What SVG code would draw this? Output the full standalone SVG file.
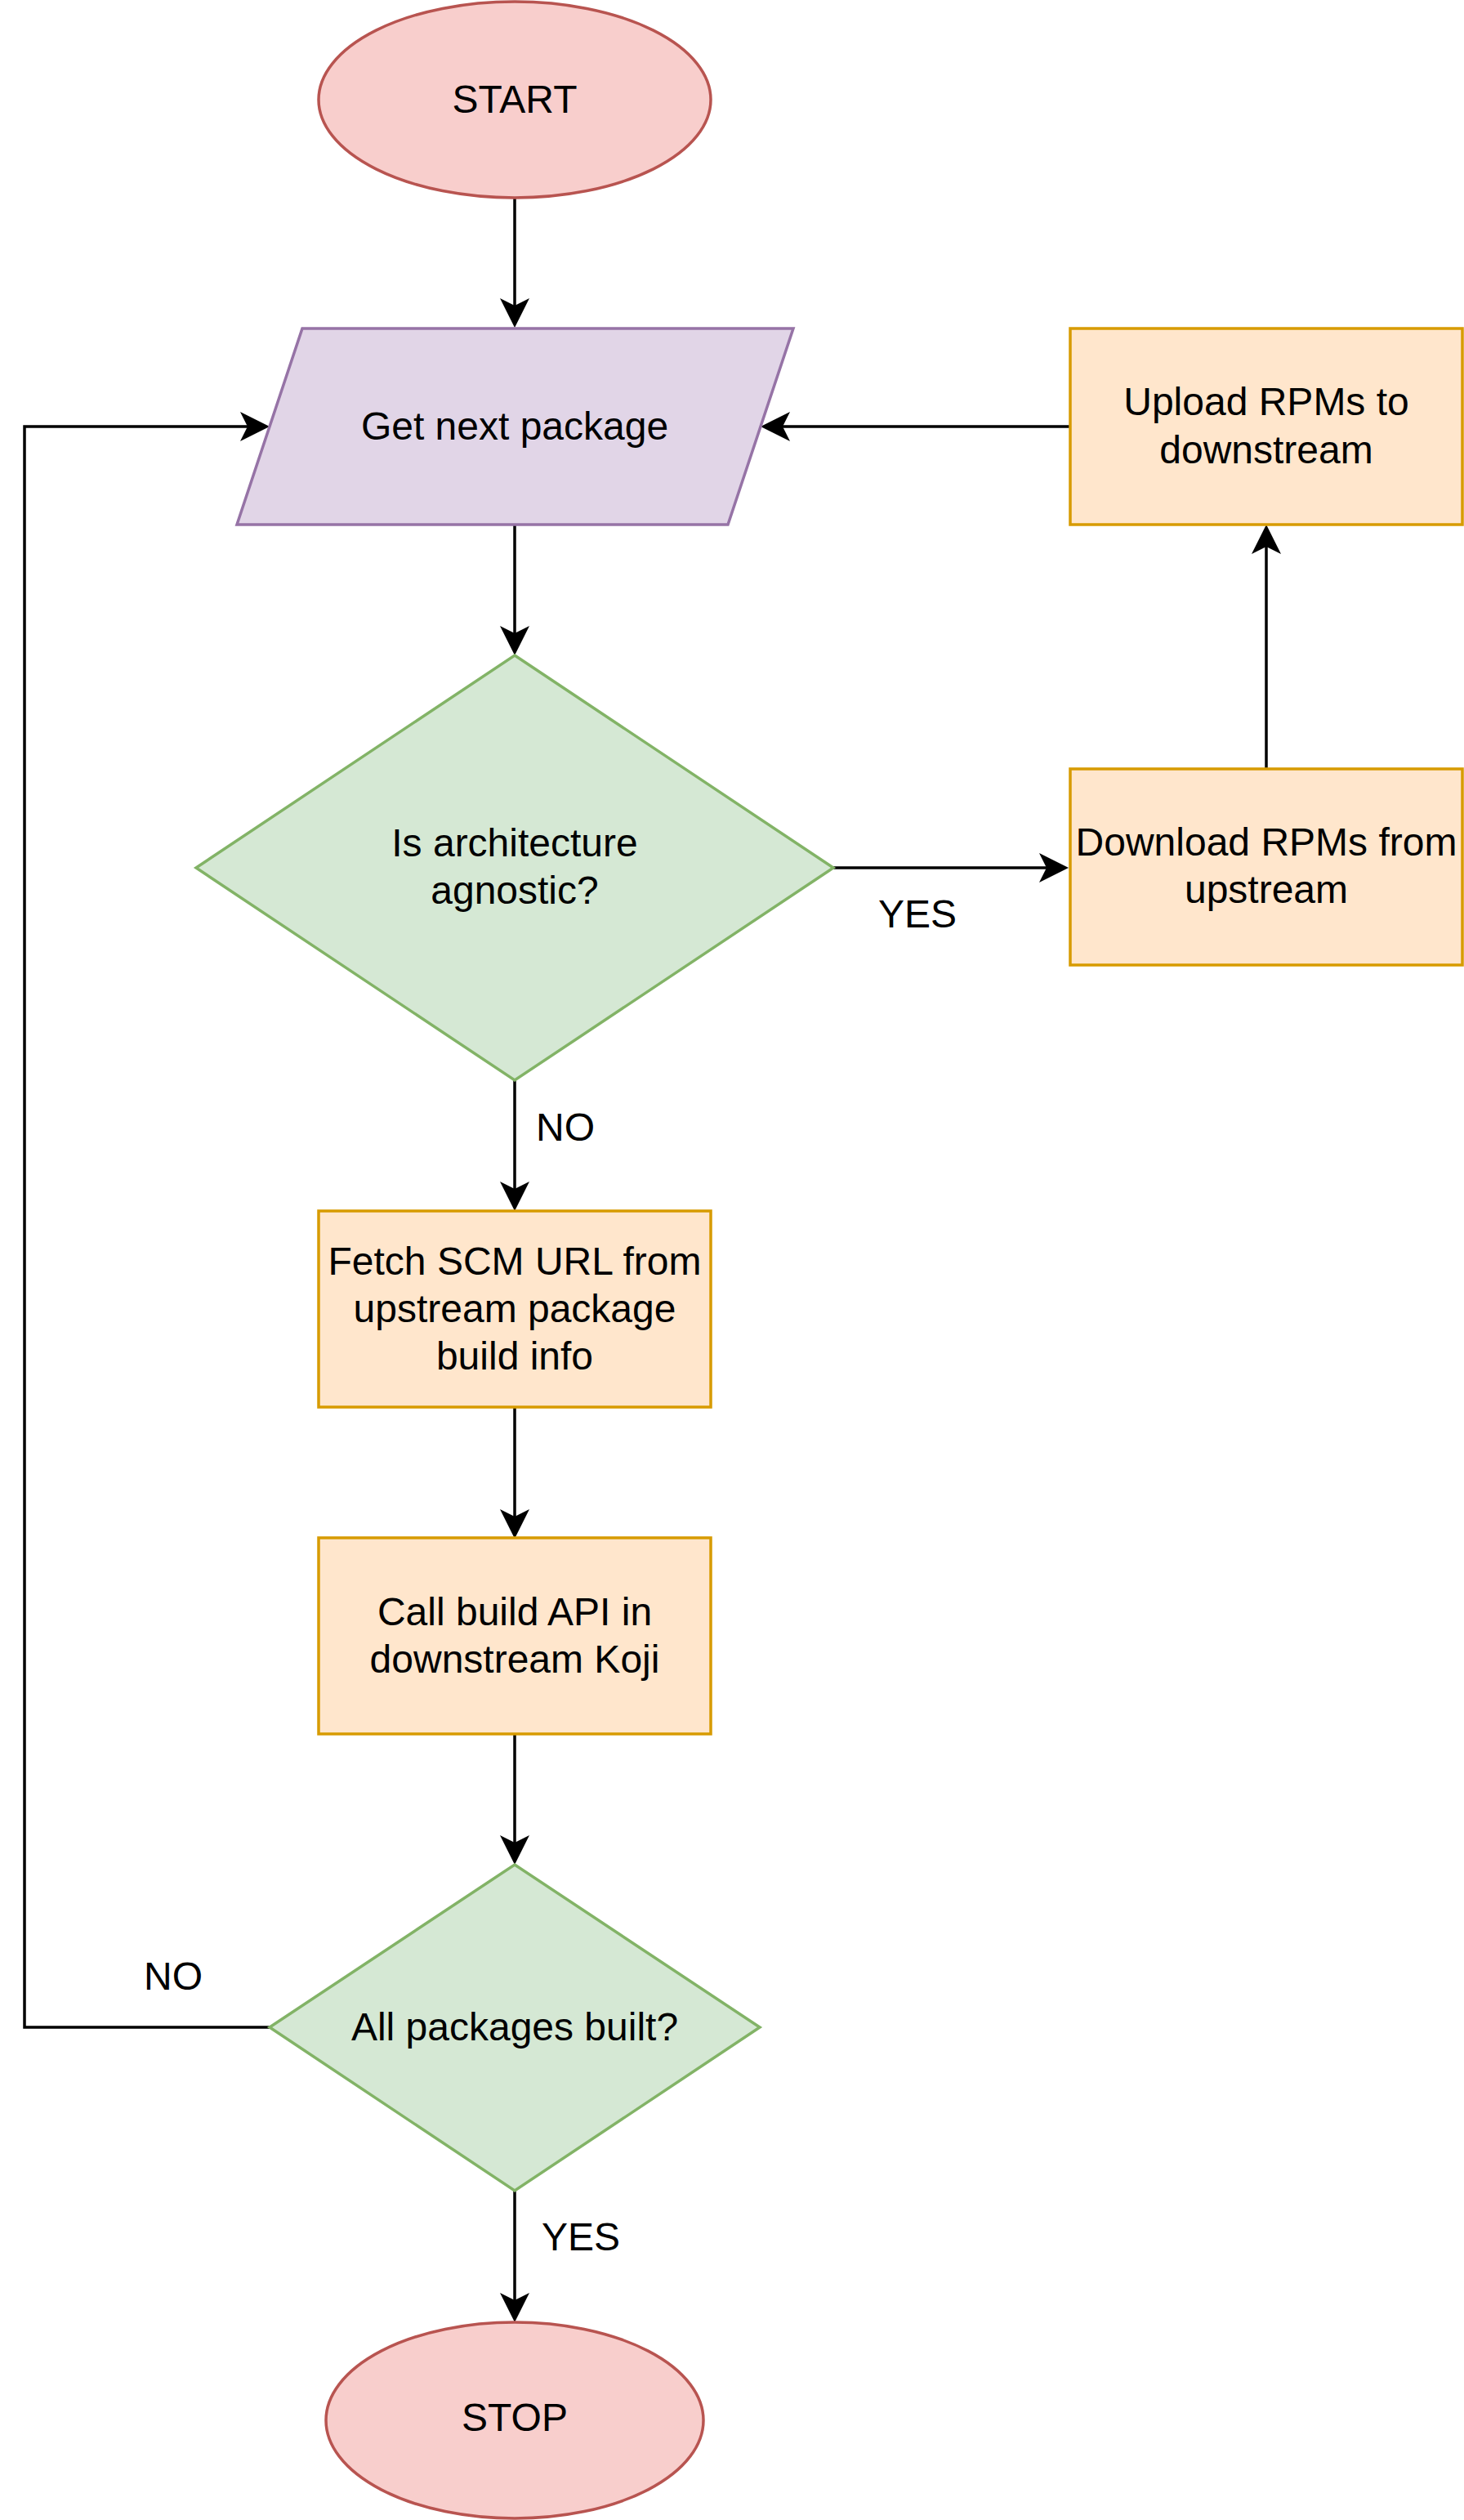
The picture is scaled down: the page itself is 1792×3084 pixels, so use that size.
<svg xmlns="http://www.w3.org/2000/svg" width="1792" height="3084" viewBox="0 0 1792 3084">
<style>
.t{font-family:"Liberation Sans",Arial,Helvetica,sans-serif;font-size:48px;fill:#000;text-anchor:middle}
.l{font-family:"Liberation Sans",Arial,Helvetica,sans-serif;font-size:48px;fill:#000;text-anchor:start}
.term{fill:#f8cecc;stroke:#b85450;stroke-width:3.5}
.io{fill:#e1d5e7;stroke:#9673a6;stroke-width:3.5}
.proc{fill:#ffe6cc;stroke:#d79b00;stroke-width:3.5}
.dec{fill:#d5e8d4;stroke:#82b366;stroke-width:3.5}
.edge{fill:none;stroke:#000;stroke-width:3.5;marker-end:url(#arr)}
</style>
<defs>
<marker id="arr" markerUnits="userSpaceOnUse" markerWidth="36" markerHeight="36" viewBox="0 0 36 36" refX="26" refY="18" orient="auto">
<path d="M36,18 L0,0 L9,18 L0,36 Z" fill="#000"/>
</marker>
</defs>
<rect width="1792" height="3084" fill="#fff"/>
<g id="connectors">
<path class="edge" d="M630,242 L630,391"/>
<path class="edge" d="M630,642 L630,792"/>
<path class="edge" d="M1020,1062 L1298,1062"/>
<path class="edge" d="M1550,941 L1550,652"/>
<path class="edge" d="M1310,522 L941,522"/>
<path class="edge" d="M630,1322 L630,1472"/>
<path class="edge" d="M630,1722 L630,1873"/>
<path class="edge" d="M630,2122 L630,2272"/>
<path class="edge" d="M330,2481 L30,2481 L30,522 L320,522"/>
<path class="edge" d="M630,2681 L630,2832"/>
<text class="l" x="1075" y="1135">YES</text>
<text class="l" x="656" y="1396">NO</text>
<text class="l" x="176" y="2435">NO</text>
<text class="l" x="663" y="2754">YES</text>
</g>
<g id="start">
<ellipse class="term" cx="630" cy="122" rx="240" ry="120"/>
<text class="t" x="630" y="138">START</text>
</g>
<g id="get-next">
<polygon class="io" points="370,402 971,402 891,642 290,642"/>
<text class="t" x="630" y="538">Get next package</text>
</g>
<g id="arch-agnostic">
<polygon class="dec" points="630,802 1020,1062 630,1322 240,1062"/>
<text class="t" x="630" y="1048">Is architecture</text>
<text class="t" x="630" y="1106">agnostic?</text>
</g>
<g id="download">
<rect class="proc" x="1310" y="941" width="480" height="240"/>
<text class="t" x="1550" y="1047">Download RPMs from</text>
<text class="t" x="1550" y="1105">upstream</text>
</g>
<g id="upload">
<rect class="proc" x="1310" y="402" width="480" height="240"/>
<text class="t" x="1550" y="508">Upload RPMs to</text>
<text class="t" x="1550" y="567">downstream</text>
</g>
<g id="fetch">
<rect class="proc" x="390" y="1482" width="480" height="240"/>
<text class="t" x="630" y="1560">Fetch SCM URL from</text>
<text class="t" x="630" y="1618">upstream package</text>
<text class="t" x="630" y="1676">build info</text>
</g>
<g id="call-build">
<rect class="proc" x="390" y="1882" width="480" height="240"/>
<text class="t" x="630" y="1989">Call build API in</text>
<text class="t" x="630" y="2047">downstream Koji</text>
</g>
<g id="all-built">
<polygon class="dec" points="630,2282 930,2481 630,2681 330,2481"/>
<text class="t" x="630" y="2497">All packages built?</text>
</g>
<g id="stop">
<ellipse class="term" cx="630" cy="2962" rx="231" ry="120"/>
<text class="t" x="630" y="2975">STOP</text>
</g>
</svg>
